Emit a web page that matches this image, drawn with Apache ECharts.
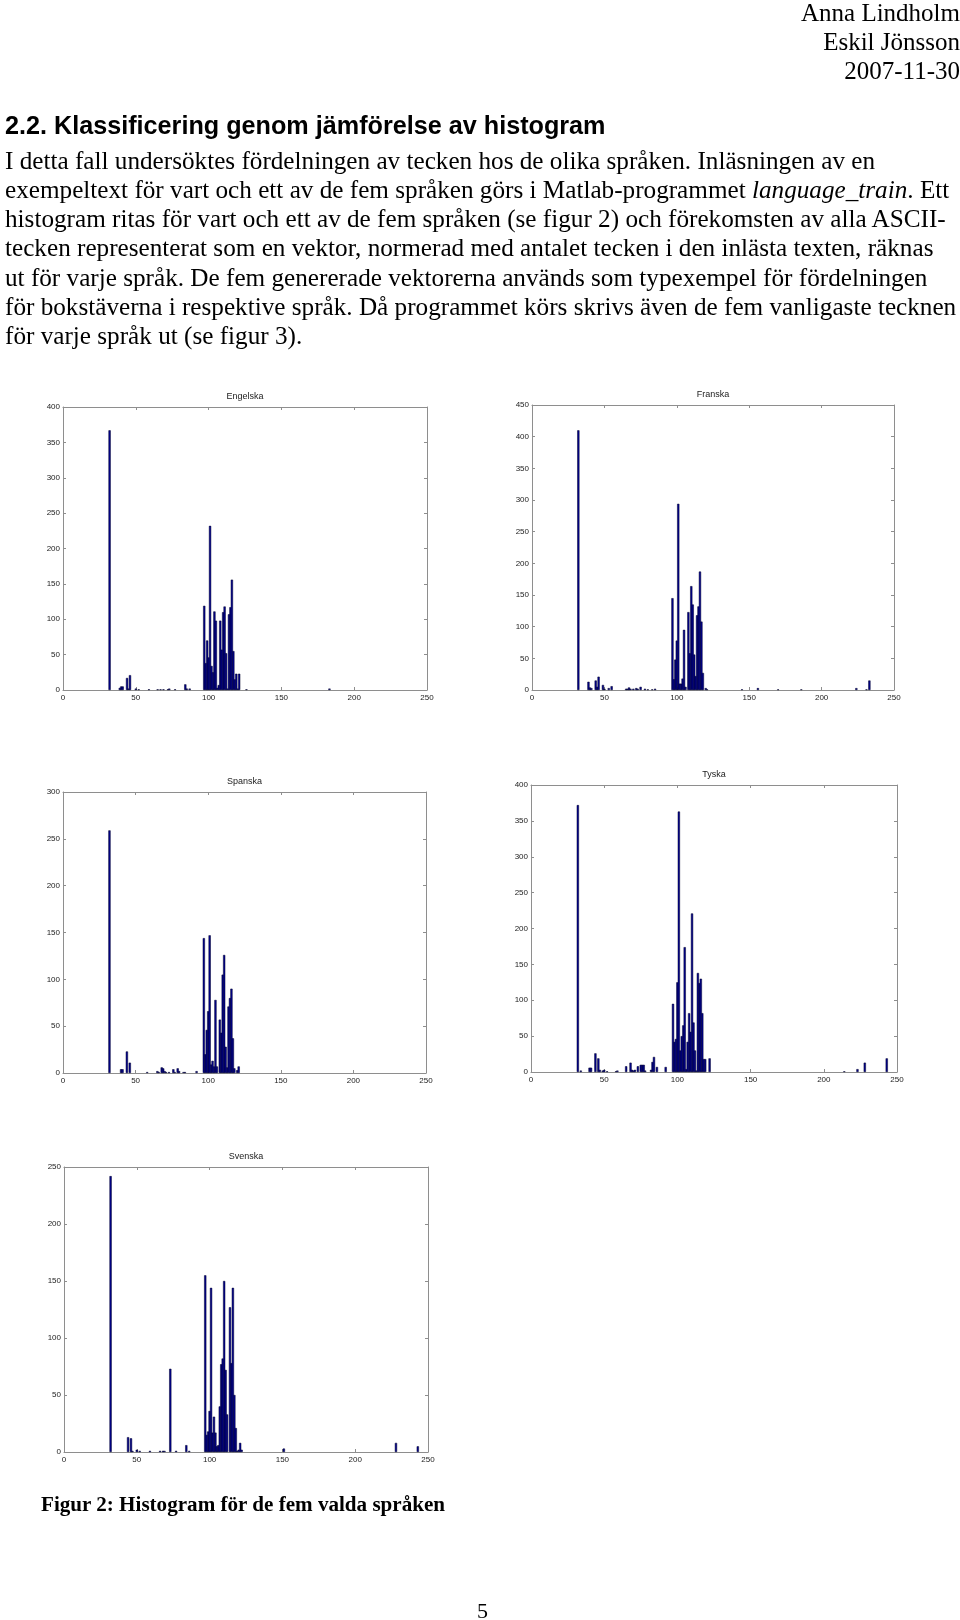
<!DOCTYPE html>
<html><head><meta charset="utf-8">
<script src="https://cdn.jsdelivr.net/npm/echarts@6/dist/echarts.min.js"></script>
<style>
html,body{margin:0;padding:0;background:#fff;}
body{width:960px;height:1620px;position:relative;overflow:hidden;}
#chart{position:absolute;left:0;top:0;width:960px;height:1620px;}
.t{position:absolute;white-space:nowrap;font-family:"Liberation Serif","Times New Roman",serif;color:#000;line-height:1;}
.hd{font-size:25px;right:0px;}
.p{font-size:25.2px;left:5px;}
.h2{font-family:"Liberation Sans",Arial,sans-serif;font-weight:bold;font-size:25.2px;left:5px;}
.cap{font-weight:bold;font-size:21.1px;left:41px;}
</style></head>
<body>
<div id="chart"></div>
<div class="t hd" style="top:0px">Anna Lindholm</div>
<div class="t hd" style="top:29px">Eskil Jönsson</div>
<div class="t hd" style="top:57.5px">2007-11-30</div>
<div class="t h2" style="top:113px">2.2. Klassificering genom jämförelse av histogram</div>
<div class="t p" style="top:148px">I detta fall undersöktes fördelningen av tecken hos de olika språken. Inläsningen av en</div>
<div class="t p" style="top:177px">exempeltext för vart och ett av de fem språken görs i Matlab-programmet <i>language_train</i>. Ett</div>
<div class="t p" style="top:206px">histogram ritas för vart och ett av de fem språken (se figur 2) och förekomsten av alla ASCII-</div>
<div class="t p" style="top:235px">tecken representerat som en vektor, normerad med antalet tecken i den inlästa texten, räknas</div>
<div class="t p" style="top:264.5px">ut för varje språk. De fem genererade vektorerna används som typexempel för fördelningen</div>
<div class="t p" style="top:293.5px">för bokstäverna i respektive språk. Då programmet körs skrivs även de fem vanligaste tecknen</div>
<div class="t p" style="top:322.5px">för varje språk ut (se figur 3).</div>
<div class="t cap" style="top:1493.5px">Figur 2: Histogram för de fem valda språken</div>
<div class="t" style="font-size:22px;left:477px;top:1600px">5</div>
<script>
// ---- data: character code -> count ----
const xTicks = [0, 50, 100, 150, 200, 250];

const engelskaCodes  = [32,39,40,41,44,45,46,50,52,59,65,67,69,72,73,77,84,85,87,97,98,99,100,101,102,103,104,105,106,107,108,109,110,111,112,113,114,115,116,117,118,119,120,121,126,183];
const engelskaCounts = [367,3,5,5,17,2,21,2,1,1,1,1,1,1,2,1,8,2,2,119,38,70,46,232,34,25,111,98,3,7,98,57,110,118,52,2,107,117,156,55,15,23,2,23,1,2];

const franskaCodes  = [32,39,40,41,44,45,46,49,50,53,55,65,66,67,68,70,72,73,75,78,80,83,85,97,98,99,100,101,102,103,104,105,106,108,109,110,111,112,113,114,115,116,117,118,120,121,145,156,170,186,224,231,233];
const franskaCounts = [410,13,4,3,15,5,21,8,2,3,6,2,2,4,2,2,3,2,5,2,1,1,2,145,17,48,78,294,10,10,18,95,5,123,58,164,135,56,22,118,132,187,108,27,3,1,1,3,1,1,3,1,15];

const spanskaCodes  = [32,40,41,44,46,58,65,66,68,69,70,71,73,76,77,79,80,83,84,92,97,98,99,100,101,102,103,104,105,106,108,109,110,111,112,113,114,115,116,117,118,120,121];
const spanskaCounts = [259,4,4,23,11,1,2,1,6,5,2,1,1,4,1,5,2,1,1,2,144,20,46,66,147,9,13,7,78,7,57,43,105,126,28,6,71,80,90,37,5,3,7];

const tyskaCodes  = [32,34,40,41,44,46,47,49,50,52,58,59,65,68,69,70,71,73,75,76,77,78,82,83,84,86,92,97,98,99,100,101,102,103,104,105,106,107,108,109,110,111,112,113,114,115,116,117,118,119,122,214,223,228,243];
const tyskaCounts = [372,2,6,6,26,19,3,2,3,1,1,2,8,13,3,2,3,8,10,10,10,2,3,14,21,7,7,95,42,46,125,363,30,50,65,174,4,42,82,56,221,69,30,2,138,124,130,82,18,18,19,1,4,13,19];

const svenskaCodes  = [32,44,46,47,50,52,59,66,68,69,73,77,84,86,97,98,99,100,101,102,103,104,105,106,107,108,109,110,111,112,114,115,116,117,118,119,120,121,122,151,228,243];
const svenskaCounts = [242,13,12,1,2,1,1,1,1,1,73,1,6,1,155,15,18,36,144,17,31,17,5,6,40,77,82,150,72,33,127,78,144,50,21,1,2,8,2,3,8,5];

const languageNames = ['Engelska','Franska','Spanska','Tyska','Svenska'];
const yMaxes = [400, 450, 300, 400, 250];

// ---- layout (pixels) ----
const gridBoxes = [
  {left:63,  top:407,  width:364, height:283},
  {left:532, top:405,  width:362, height:285},
  {left:63,  top:792,  width:363, height:281},
  {left:531, top:785,  width:366, height:287},
  {left:64,  top:1167, width:364, height:285}
];

const allCodes  = [engelskaCodes, franskaCodes, spanskaCodes, tyskaCodes, svenskaCodes];
const allCounts = [engelskaCounts, franskaCounts, spanskaCounts, tyskaCounts, svenskaCounts];

const boxColor = '#8e8e8e';
const labelStyle = {fontSize:8, color:'#222', fontFamily:'"Liberation Sans", Arial, sans-serif'};

const grids = [], xAxes = [], yAxes = [], series = [], titles = [];
gridBoxes.forEach((g, i) => {
  grids.push({left:g.left, top:g.top, width:g.width, height:g.height, containLabel:false});
  const common = {
    type:'value', gridIndex:i, min:0, splitLine:{show:false},
    axisLine:{show:true, onZero:false, lineStyle:{color:boxColor, width:1}},
    axisTick:{show:true, inside:true, length:3, lineStyle:{color:boxColor, width:1}}
  };
  xAxes.push(Object.assign({}, common, {position:'bottom', max:xTicks[xTicks.length-1], interval:50,
    axisLabel:Object.assign({margin:4}, labelStyle)}));
  xAxes.push(Object.assign({}, common, {position:'top', max:xTicks[xTicks.length-1], interval:50,
    axisLabel:{show:false}}));
  yAxes.push(Object.assign({}, common, {position:'left', max:yMaxes[i], interval:50,
    axisLabel:Object.assign({margin:3}, labelStyle)}));
  yAxes.push(Object.assign({}, common, {position:'right', max:yMaxes[i], interval:50,
    axisLabel:{show:false}}));
  series.push({
    type:'bar', name:languageNames[i], xAxisIndex:2*i, yAxisIndex:2*i,
    data: allCodes[i].map((c, k) => [c, allCounts[i][k]]),
    barWidth:2.2, silent:true,
    itemStyle:{color:'#00008e', borderColor:'#00002a', borderWidth:0.5}
  });
  titles.push({text:languageNames[i], left:g.left + g.width/2, top:g.top - 15, textAlign:'center', padding:0,
    textStyle:{fontSize:9, fontWeight:'normal', color:'#222', fontFamily:'"Liberation Sans", Arial, sans-serif'}});
});

const chart = echarts.init(document.getElementById('chart'), null, {renderer:'canvas'});
chart.setOption({
  animation:false,
  backgroundColor:'#fff',
  title:titles,
  grid:grids,
  xAxis:xAxes,
  yAxis:yAxes,
  series:series
});
</script>
</body></html>
